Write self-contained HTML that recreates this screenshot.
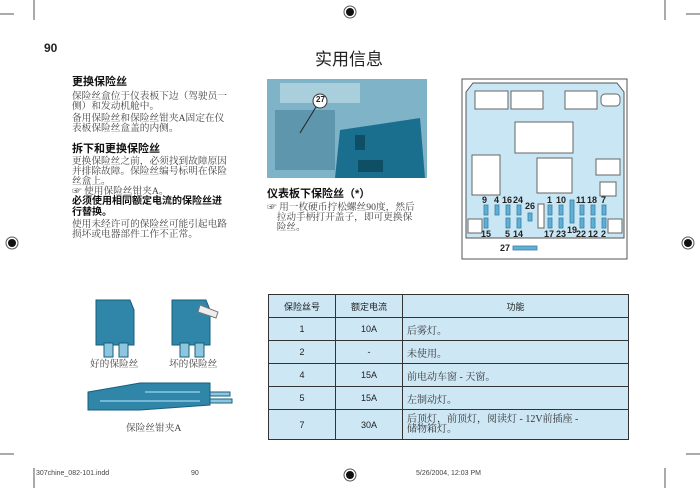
<!DOCTYPE html>
<html><head><meta charset="utf-8"><style>
body{margin:0;width:700px;height:488px;background:#fff;position:relative;overflow:hidden;font-family:"Liberation Serif","Noto Serif CJK SC",serif;color:#222}
.a{position:absolute;white-space:nowrap}
.s{font-family:"Liberation Sans","Noto Sans CJK SC",sans-serif}
.p{font-size:9.7px;line-height:10px;color:#444}
.h{font-size:11px;line-height:12px;font-weight:bold;font-family:"Liberation Sans","Noto Sans CJK SC",sans-serif;color:#111}
table{border-collapse:collapse;position:absolute;left:268px;top:294px;width:361px;font-size:9px;font-family:"Liberation Sans","Noto Sans CJK SC",sans-serif}
td{border:1.5px solid #333;background:#cde7f5;text-align:center;padding:0;height:22px}
td.f{text-align:left;padding-left:4px;font-family:"Liberation Serif","Noto Serif CJK SC",serif;font-size:10px;color:#333}
.fl{font-family:"Liberation Sans",sans-serif;font-weight:bold;font-size:9px;position:absolute;color:#222}
</style></head><body>
<svg class="a" style="left:0;top:0" width="700" height="488">
<g stroke="#555" stroke-width="1">
<line x1="0" y1="14" x2="14" y2="14"/><line x1="686" y1="14" x2="700" y2="14"/>
<line x1="0" y1="454" x2="14" y2="454"/><line x1="686" y1="454" x2="700" y2="454"/>
<line x1="34" y1="0" x2="34" y2="20"/><line x1="665" y1="0" x2="665" y2="20"/>
<line x1="34" y1="468" x2="34" y2="488"/><line x1="665" y1="468" x2="665" y2="488"/>
</g>
<g fill="#111"><circle cx="350" cy="12" r="4"/><circle cx="12" cy="243" r="4"/><circle cx="688" cy="243" r="4"/><circle cx="350" cy="475" r="4"/></g>
<g stroke="#555" fill="none"><circle cx="350" cy="12" r="6"/><circle cx="12" cy="243" r="6"/><circle cx="688" cy="243" r="6"/><circle cx="350" cy="475" r="6"/></g>
<!-- photo -->
<rect x="267" y="79" width="160" height="99" fill="#7fb3c8"/>
<rect x="280" y="83" width="80" height="20" fill="#a9cfdd"/>
<rect x="275" y="110" width="60" height="60" fill="#5e97ad"/>
<polygon points="340,130 420,118 425,178 335,178" fill="#1b6f8e"/>
<rect x="355" y="135" width="10" height="15" fill="#0f4f66"/><rect x="358" y="160" width="25" height="12" fill="#0f4f66"/>
<circle cx="320" cy="101" r="7" fill="#fff" stroke="#333"/>
<line x1="316" y1="107" x2="300" y2="133" stroke="#222"/>
<!-- fuse box -->
<rect x="462" y="79" width="165" height="180" fill="#fff" stroke="#555"/>
<polygon points="473,83 617,83 624,92 624,238 466,238 466,92" fill="#c9e6f4" stroke="#555"/>
<g fill="#fff" stroke="#666">
<rect x="475" y="91" width="33" height="18"/><rect x="511" y="91" width="32" height="18"/><rect x="565" y="91" width="32" height="18"/><rect x="601" y="94" width="19" height="12" rx="4"/>
<rect x="515" y="122" width="58" height="31"/><rect x="472" y="155" width="28" height="40"/><rect x="537" y="158" width="35" height="35"/>
<rect x="596" y="159" width="24" height="16"/><rect x="600" y="182" width="16" height="14"/>
<rect x="468" y="219" width="14" height="14"/><rect x="608" y="219" width="14" height="14"/><rect x="538" y="204" width="6" height="24"/>
</g>
<g fill="#5fb0d8" stroke="#3a7ea0" stroke-width="0.8">
<rect x="484" y="205" width="4" height="10"/><rect x="484" y="218" width="4" height="10"/>
<rect x="495" y="205" width="4" height="10"/>
<rect x="506" y="205" width="4" height="10"/><rect x="506" y="218" width="4" height="10"/>
<rect x="517" y="205" width="4" height="10"/><rect x="517" y="218" width="4" height="10"/>
<rect x="528" y="213" width="4" height="8"/>
<rect x="548" y="205" width="4" height="10"/><rect x="548" y="218" width="4" height="10"/>
<rect x="559" y="205" width="4" height="10"/><rect x="559" y="218" width="4" height="10"/>
<rect x="570" y="200" width="4" height="23"/>
<rect x="580" y="205" width="4" height="10"/><rect x="580" y="218" width="4" height="10"/>
<rect x="591" y="205" width="4" height="10"/><rect x="591" y="218" width="4" height="10"/>
<rect x="602" y="205" width="4" height="10"/><rect x="602" y="218" width="4" height="10"/>
<rect x="513" y="246" width="24" height="4"/>
</g>
<!-- fuses images -->
<g fill="#2f86a8" stroke="#1a5f7d">
<path d="M96,300 L130,300 L134,310 L134,345 L96,345 Z"/><rect x="104" y="343" width="9" height="14" fill="#8cc7df"/><rect x="119" y="343" width="9" height="14" fill="#8cc7df"/>
<path d="M172,300 L206,300 L210,310 L210,345 L172,345 Z"/><rect x="180" y="343" width="9" height="14" fill="#8cc7df"/><rect x="195" y="343" width="9" height="14" fill="#8cc7df"/>
<path d="M88,392 L140,383 L210,383 L210,405 L140,410 L88,410 Z"/>
</g>
<g stroke="#8cc7df" stroke-width="1.5"><line x1="145" y1="392" x2="200" y2="392"/><line x1="100" y1="401" x2="200" y2="401"/></g>
<polygon points="200,305 218,312 216,318 198,312" fill="#eee" stroke="#777"/>
<rect x="210" y="392" width="20" height="4" fill="#8cc7df" stroke="#1a5f7d"/><rect x="210" y="399" width="22" height="4" fill="#8cc7df" stroke="#1a5f7d"/>
</svg>

<div class="a s" style="left:44px;top:41px;font-size:12px;font-weight:bold">90</div>
<div class="a s" style="left:315px;top:45px;font-size:17px">实用信息</div>

<div class="a h" style="left:72px;top:76px">更换保险丝</div>
<div class="a p" style="left:72px;top:92px">保险丝盒位于仪表板下边（驾驶员一<br>侧）和发动机舱中。</div>
<div class="a p" style="left:72px;top:114px">备用保险丝和保险丝钳夹A固定在仪<br>表板保险丝盒盖的内侧。</div>
<div class="a h" style="left:72px;top:143px">拆下和更换保险丝</div>
<div class="a p" style="left:72px;top:157px">更换保险丝之前，必须找到故障原因<br>并排除故障。保险丝编号标明在保险<br>丝盒上。</div>
<div class="a p" style="left:72px;top:187px">☞ 使用保险丝钳夹A。</div>
<div class="a h" style="left:72px;top:197px;font-size:10px;line-height:10.5px">必须使用相同额定电流的保险丝进<br>行替换。</div>
<div class="a p" style="left:72px;top:220px">使用未经许可的保险丝可能引起电路<br>损坏或电器部件工作不正常。</div>

<div class="a h" style="left:267px;top:188px">仪表板下保险丝（*）</div>
<div class="a p" style="left:267px;top:203px">☞ 用一枚硬币拧松螺丝90度，然后<br>&nbsp;&nbsp;&nbsp;&nbsp;拉动手柄打开盖子，即可更换保<br>&nbsp;&nbsp;&nbsp;&nbsp;险丝。</div>
<div class="a s" style="left:316px;top:95px;font-size:8px;font-weight:bold">27</div>

<div class="fl" style="left:482px;top:195px">9</div><div class="fl" style="left:494px;top:195px">4</div><div class="fl" style="left:502px;top:195px">16</div><div class="fl" style="left:513px;top:195px">24</div><div class="fl" style="left:525px;top:201px">26</div>
<div class="fl" style="left:547px;top:195px">1</div><div class="fl" style="left:556px;top:195px">10</div><div class="fl" style="left:576px;top:195px">11</div><div class="fl" style="left:587px;top:195px">18</div><div class="fl" style="left:601px;top:195px">7</div>
<div class="fl" style="left:481px;top:229px">15</div><div class="fl" style="left:505px;top:229px">5</div><div class="fl" style="left:513px;top:229px">14</div><div class="fl" style="left:544px;top:229px">17</div><div class="fl" style="left:556px;top:229px">23</div><div class="fl" style="left:567px;top:225px">19</div><div class="fl" style="left:576px;top:229px">22</div><div class="fl" style="left:588px;top:229px">12</div><div class="fl" style="left:601px;top:229px">2</div>
<div class="fl" style="left:500px;top:243px">27</div>

<div class="a p" style="left:90px;top:360px">好的保险丝</div>
<div class="a p" style="left:169px;top:360px">坏的保险丝</div>
<div class="a p" style="left:126px;top:424px">保险丝钳夹A</div>

<table>
<tr><td style="width:66px;height:20px">保险丝号</td><td style="width:66px">额定电流</td><td>功能</td></tr>
<tr><td>1</td><td>10A</td><td class="f">后雾灯。</td></tr>
<tr><td>2</td><td>-</td><td class="f">未使用。</td></tr>
<tr><td>4</td><td>15A</td><td class="f">前电动车窗 - 天窗。</td></tr>
<tr><td>5</td><td>15A</td><td class="f">左制动灯。</td></tr>
<tr><td style="height:29px">7</td><td>30A</td><td class="f" style="line-height:10px">后顶灯，前顶灯，阅读灯 - 12V前插座 -<br>储物箱灯。</td></tr>
</table>

<div class="a s" style="left:36px;top:470px;font-size:7px;color:#444">307chine_082-101.indd</div>
<div class="a s" style="left:191px;top:470px;font-size:7px;color:#444">90</div>
<div class="a s" style="left:416px;top:470px;font-size:7px;color:#444">5/26/2004, 12:03 PM</div>
</body></html>
